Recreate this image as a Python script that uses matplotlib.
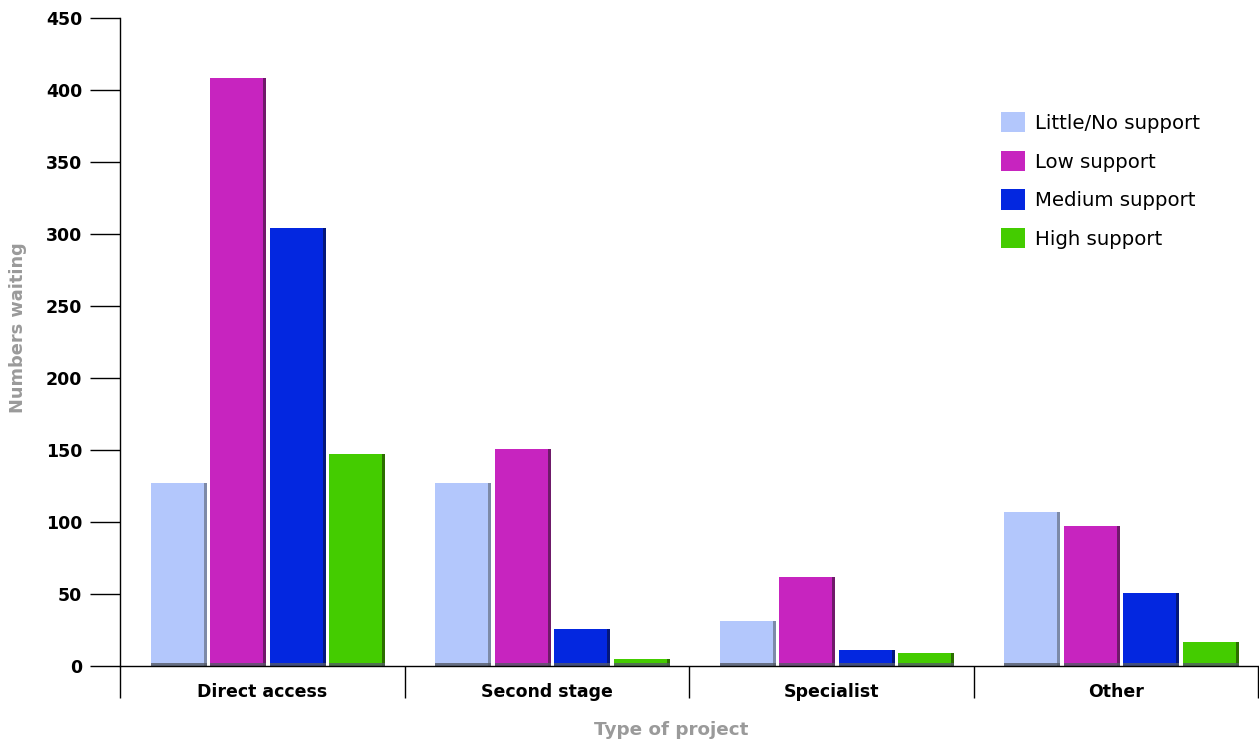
import numpy as np
import matplotlib
matplotlib.use("Agg")
import matplotlib.pyplot as plt
from matplotlib.patches import Patch

categories = ["Direct access", "Second stage", "Specialist", "Other"]
series_names = ["Little/No support", "Low support", "Medium support", "High support"]
little_no = [127, 127, 31, 107]
low = [408, 151, 62, 97]
medium = [304, 26, 11, 51]
high = [147, 5, 9, 17]
yticks = [0, 50, 100, 150, 200, 250, 300, 350, 400, 450]

face_colors = ["#b3c7fc", "#c724bf", "#0327e0", "#44cc00"]
edge_colors = ["#7d8aa8", "#6f1a6a", "#04177a", "#2c6e00"]

fig = plt.figure(figsize=(12.59, 7.42), dpi=100)
ax = fig.add_axes([120 / 1259, 1 - 666 / 742, 1138 / 1259, 648 / 742])

x = np.arange(len(categories))
pitch = 0.209
width = 0.197
strip = 0.011
all_series = [little_no, low, medium, high]
for i, vals in enumerate(all_series):
    xs = x + (i - 1.5) * pitch + 0.02
    ax.bar(xs, vals, width=width, color=face_colors[i], linewidth=0, zorder=2)
    # darker right-hand edge for a slight depth effect
    ax.bar(xs + width / 2 - strip / 2, vals, width=strip, color=edge_colors[i],
           linewidth=0, zorder=3)
    # dark foot of each bar
    ax.bar(xs, [min(2.2, v) for v in vals], width=width, color="#555a66",
           linewidth=0, zorder=3, alpha=0.8)

ax.set_xlim(-0.5, 3.5)
ax.set_ylim(0, 450)
ax.set_yticks(yticks)
ax.set_yticklabels([str(t) for t in yticks], fontsize=12.5, fontweight="bold")
ax.tick_params(axis="y", direction="out", length=21.6, width=1, pad=5.5, color="black")

ax.set_xticks(x)
ax.set_xticklabels(categories, fontsize=12.5, fontweight="bold")
ax.tick_params(axis="x", which="major", length=0, pad=12)
ax.set_xticks([-0.5, 0.5, 1.5, 2.5, 3.5], minor=True)
ax.tick_params(axis="x", which="minor", direction="out", length=23, width=1, color="black")

for side in ["top", "right"]:
    ax.spines[side].set_visible(False)
for side in ["left", "bottom"]:
    ax.spines[side].set_color("black")
    ax.spines[side].set_linewidth(1)
    ax.spines[side].set_zorder(4)

fig.text(18 / 1259, 1 - 328 / 742, "Numbers waiting", rotation=90, ha="center",
         va="center", fontsize=12.8, fontweight="bold", color="#9a9a9a")
fig.text(671 / 1259, 1 - 730 / 742, "Type of project", ha="center", va="center",
         fontsize=13.2, fontweight="bold", color="#9a9a9a")

handles = [Patch(facecolor=c, edgecolor="none") for c in face_colors]
leg = ax.legend(handles, series_names, loc="upper left",
                bbox_to_anchor=(1001 / 1259, 1 - 112 / 742), bbox_transform=fig.transFigure,
                frameon=False, fontsize=14.2, handlelength=1.22, handleheight=1.22,
                handletextpad=0.5, labelspacing=0.9, borderpad=0, borderaxespad=0)

fig.savefig("out.png", dpi=100)
